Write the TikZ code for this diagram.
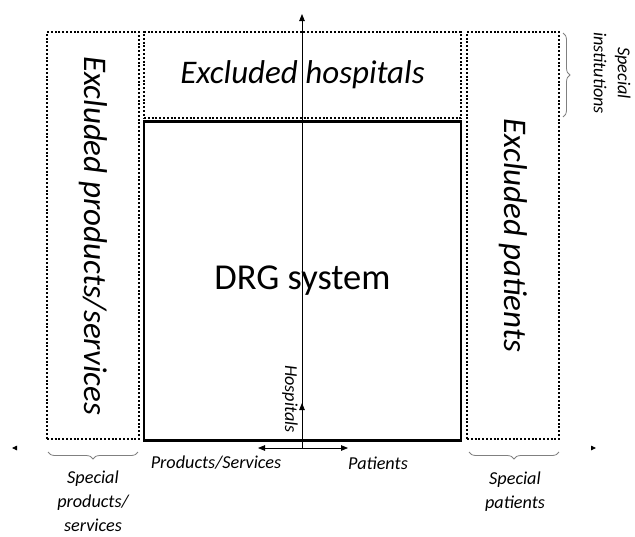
\documentclass[tikz,border=0pt]{standalone}
\usepackage{fontspec}
\setmainfont{Carlito}
\usetikzlibrary{arrows.meta}
\usetikzlibrary{decorations.pathreplacing}

\begin{document}
\begin{tikzpicture}
	[x=1pt, y=-1pt,
	excluded/.style={draw, line width=2pt, dash pattern=on 2pt off 1.8pt, inner sep=0pt},
	system/.style={draw, line width=2.2pt, inner sep=0pt},
	big/.style={font=\fontsize{33}{38}\selectfont\itshape},
	small/.style={font=\fontsize{18.2}{24}\selectfont\itshape, align=center},
	axis/.style={line width=0.8pt, -{Triangle[length=7pt,width=5.5pt]}},
	ghost/.style={draw=white, line width=0.8pt, -{Triangle[length=5pt,width=4.5pt,black]}},
	bracket/.style={draw=gray, line width=0.8pt, decorate, decoration={brace, amplitude=7pt}}]
	\useasboundingbox (0,0) rectangle (635,536);
	\node[excluded, minimum width=92pt, minimum height=407pt] (products) at (93,235.5) {};
	\node[excluded, minimum width=317pt, minimum height=86pt, big] (hospitals) at (302.5,75) {Excluded hospitals};
	\node[system, minimum width=317pt, minimum height=319pt, font=\fontsize{36.5}{42}\selectfont] (drg) at (302.5,281) {DRG system};
	\node[excluded, minimum width=92pt, minimum height=407pt] (patients) at (513,235.5) {};
	\node[big, rotate=-90] (productslabel) at (products) {Excluded products/services};
	\node[big, rotate=-90] (patientslabel) at (patients) {Excluded patients};
	\coordinate (origin) at (302,448);
	\coordinate (top) at (302,14);
	\coordinate (hosptip) at (302,403);
	\coordinate (west) at (258,448);
	\coordinate (east) at (348,448);
	\draw[ghost] (20,448) coordinate (farwest0) -- (12,448) coordinate (farwest);
	\draw[ghost] (587,448) coordinate (fareast0) -- (596,448) coordinate (fareast);
	\draw[axis] (origin) -- (top);
	\draw[axis] (origin) -- (hosptip);
	\draw[axis] (origin) -- (west);
	\draw[axis] (origin) -- (east);
	\node[small, rotate=-90] (hosplabel) at (290,399) {Hospitals};
	\node[small] (servlabel) at (216,463) {Products/Services};
	\node[small] (patlabel) at (378,463) {Patients};
	\draw[bracket] (138,452) -- (48,452) coordinate[midway] (leftbrace);
	\draw[bracket] (559,452) -- (469,452) coordinate[midway] (rightbrace);
	\draw[bracket] (563,33) -- (563,117) coordinate[midway] (topbrace);
	\node[small] (specialprod) at (93,501) {Special\\products/\\services};
	\node[small] (specialpat) at (515,492) {Special\\patients};
	\node[small, rotate=-90] (specialinst) at (612,73) {Special\\institutions};
\end{tikzpicture}
\end{document}
